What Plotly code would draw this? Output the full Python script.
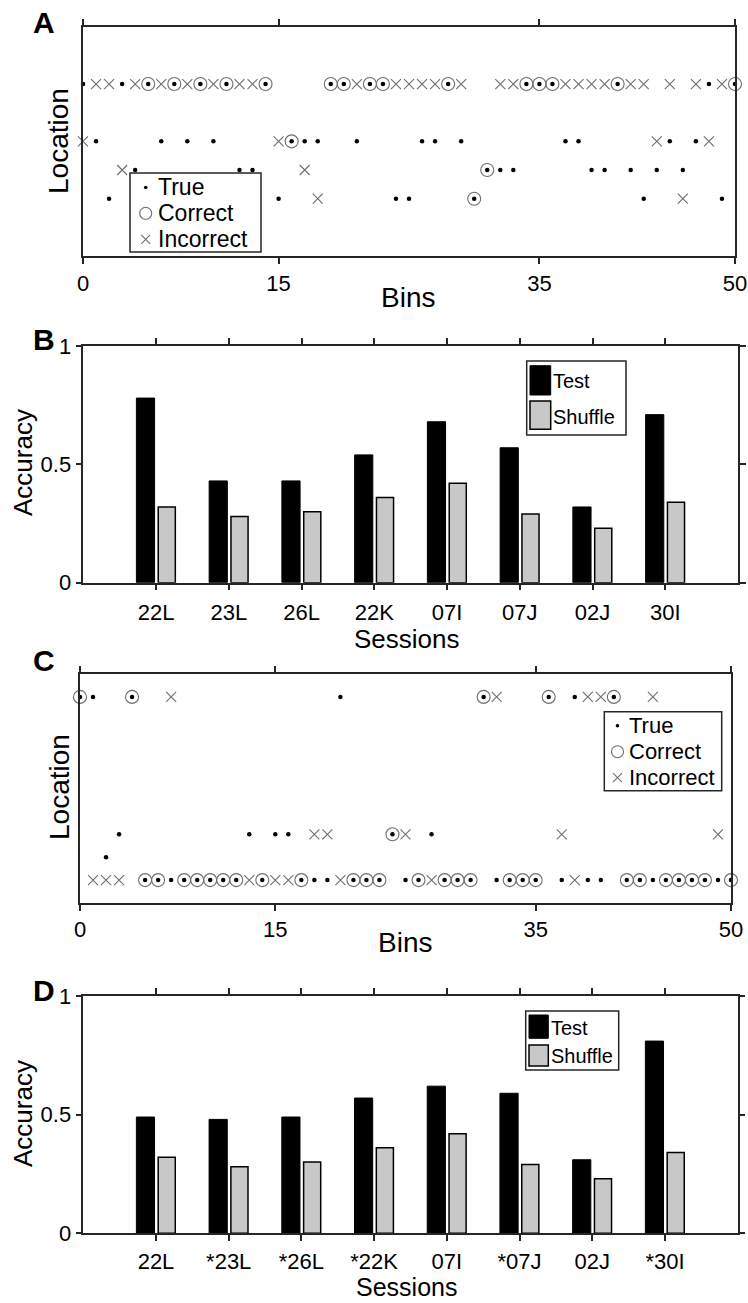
import plotly.graph_objects as go

W, H = 748, 1303
FONT = "Liberation Sans, Arial, Helvetica, sans-serif"
AX = "#262626"
MARK_GRAY = "#6e6e6e"

# ---- decoding results: true and predicted location for every time bin ----
bins = list(range(51))

a_true = [5, 3, 1, 5, 2, 5, 3, 5, 3, 5, 3, 5, 2, 2, 5, 1, 3, 3, 3, 5,
          5, 3, 5, 5, 1, 1, 3, 3, 5, 3, 1, 2, 2, 2, 5, 5, 5, 3, 3, 2,
          2, 5, 2, 1, 2, 3, 2, 3, 5, 1, 5]
a_pred = [3, 5, 5, 2, 5, 5, 5, 5, 5, 5, 5, 5, 5, 5, 5, 3, 3, 2, 1, 5,
          5, 5, 5, 5, 5, 5, 5, 5, 5, 5, 1, 2, 5, 5, 5, 5, 5, 5, 5, 5,
          5, 5, 5, 5, 3, 5, 1, 5, 3, 5, 5]

c_true = [9, 9, 2, 3, 9, 1, 1, 1, 1, 1, 1, 1, 1, 3, 1, 3, 3, 1, 1, 1,
          9, 1, 1, 1, 3, 1, 1, 3, 1, 1, 1, 9, 1, 1, 1, 1, 9, 1, 9, 1,
          1, 9, 1, 1, 1, 1, 1, 1, 1, 1, 1]
c_pred = [9, 1, 1, 1, 9, 1, 1, 9, 1, 1, 1, 1, 1, 1, 1, 1, 1, 1, 3, 3,
          1, 1, 1, 1, 3, 3, 1, 1, 1, 1, 1, 9, 9, 1, 1, 1, 9, 3, 1, 9,
          9, 9, 1, 1, 9, 1, 1, 1, 1, 3, 1]

bin_ticks = [0, 15, 35, 50]

# ---- decoding accuracy per session ----
sessions_b = ["22L", "23L", "26L", "22K", "07I", "07J", "02J", "30I"]
sessions_d = ["22L", "*23L", "*26L", "*22K", "07I", "*07J", "02J", "*30I"]
test_b = [0.78, 0.43, 0.43, 0.54, 0.68, 0.57, 0.32, 0.71]
test_d = [0.49, 0.48, 0.49, 0.57, 0.62, 0.59, 0.31, 0.81]
shuffle_acc = [0.32, 0.28, 0.30, 0.36, 0.42, 0.29, 0.23, 0.34]
acc_ticks = [0, 0.5, 1]
acc_ticktext = ["0", "0.5", "1"]


def px(x):
    return x / W


def py(y):
    return 1 - y / H


fig = go.Figure()


def add_decoding(true_loc, pred_loc, xa, ya):
    ok_x = [b for b, t, p in zip(bins, true_loc, pred_loc) if t == p]
    ok_y = [p for t, p in zip(true_loc, pred_loc) if t == p]
    bad_x = [b for b, t, p in zip(bins, true_loc, pred_loc) if t != p]
    bad_y = [p for t, p in zip(true_loc, pred_loc) if t != p]
    common = dict(xaxis=xa, yaxis=ya, mode="markers", cliponaxis=False,
                  showlegend=False)
    fig.add_trace(go.Scatter(x=ok_x, y=ok_y, name="Correct",
                             marker=dict(symbol="circle-open", size=13,
                                         color=MARK_GRAY,
                                         line=dict(width=1.1, color=MARK_GRAY)),
                             **common))
    fig.add_trace(go.Scatter(x=bad_x, y=bad_y, name="Incorrect",
                             marker=dict(symbol="x-thin-open", size=10,
                                         color=MARK_GRAY,
                                         line=dict(width=1.1, color=MARK_GRAY)),
                             **common))
    fig.add_trace(go.Scatter(x=bins, y=true_loc, name="True",
                             marker=dict(symbol="circle", size=4.5, color="black"),
                             **common))


def add_accuracy(test_vals, xa, ya):
    xs = list(range(1, len(test_vals) + 1))
    fig.add_trace(go.Bar(x=xs, y=test_vals, xaxis=xa, yaxis=ya, name="Test",
                         offset=-0.27, width=0.25, showlegend=False,
                         marker=dict(color="black",
                                     line=dict(color="black", width=1))))
    fig.add_trace(go.Bar(x=xs, y=shuffle_acc, xaxis=xa, yaxis=ya,
                         name="Shuffle", offset=0.03, width=0.235,
                         showlegend=False,
                         marker=dict(color="#c8c8c8",
                                     line=dict(color="black", width=1.5))))


add_decoding(a_true, a_pred, "x", "y")
add_accuracy(test_b, "x2", "y2")
add_decoding(c_true, c_pred, "x3", "y3")
add_accuracy(test_d, "x4", "y4")

axis_common = dict(showline=True, linecolor=AX, linewidth=1.5, mirror="allticks",
                   showgrid=False, zeroline=False, ticks="outside", ticklen=6,
                   tickwidth=1.5, tickcolor=AX,
                   tickfont=dict(family=FONT, size=22, color="black"))
loc_axis = {**axis_common, "ticks": "", "mirror": True, "showticklabels": False}

fig.update_layout(
    width=W, height=H, margin=dict(l=0, r=0, t=0, b=0),
    paper_bgcolor="white", plot_bgcolor="white", template="none",
    barmode="overlay", showlegend=False,
    # panel A
    xaxis=dict(domain=[px(83), px(735)], range=[0, 50], tickvals=bin_ticks,
               anchor="y", ticklabelstandoff=1, **axis_common),
    yaxis=dict(domain=[py(256), py(26.7)], range=[-1, 7], anchor="x",
               **loc_axis),
    # panel B
    xaxis2=dict(domain=[px(83.3), px(738)], range=[0, 9],
                tickvals=list(range(1, 9)), ticktext=sessions_b, anchor="y2",
                ticklabelstandoff=3, **axis_common),
    yaxis2=dict(domain=[py(582.7), py(346)], range=[0, 1], tickvals=acc_ticks,
                ticktext=acc_ticktext, anchor="x2", **axis_common),
    # panel C
    xaxis3=dict(domain=[px(80), px(731)], range=[0, 50], tickvals=bin_ticks,
                anchor="y3", ticklabelstandoff=0, **axis_common),
    yaxis3=dict(domain=[py(903), py(674)], range=[0, 10], anchor="x3",
                **loc_axis),
    # panel D
    xaxis4=dict(domain=[px(83.3), px(737.7)], range=[0, 9],
                tickvals=list(range(1, 9)), ticktext=sessions_d, anchor="y4",
                ticklabelstandoff=2, **axis_common),
    yaxis4=dict(domain=[py(1233.3), py(996)], range=[0, 1], tickvals=acc_ticks,
                ticktext=acc_ticktext, anchor="x4", **axis_common),
)

annotations = []
shapes = []


def label(text, x, y, size, bold=False, angle=0, yanchor="middle"):
    annotations.append(dict(
        text=f"<b>{text}</b>" if bold else text, x=px(x), y=py(y),
        xref="paper", yref="paper", showarrow=False, textangle=angle,
        xanchor="center", yanchor=yanchor,
        font=dict(family=FONT, size=size, color="black")))


def legend_text(text, x, y, size):
    annotations.append(dict(text=text, x=px(x), y=py(y), xref="paper",
                            yref="paper", showarrow=False, xanchor="left",
                            yanchor="middle",
                            font=dict(family=FONT, size=size, color="black")))


def box(x0, y0, x1, y1, fill, color, lw):
    shapes.append(dict(type="rect", xref="paper", yref="paper",
                       x0=px(x0), x1=px(x1), y0=py(y1), y1=py(y0),
                       fillcolor=fill, line=dict(color=color, width=lw)))


# ---- panel letters and axis titles ----
for letter, (lx, ly) in {"A": (44, 22), "B": (44, 340), "C": (44, 660),
                         "D": (44, 990)}.items():
    label(letter, lx, ly, 30, bold=True)

label("Location", 59, 141, 28, angle=-90)
label("Bins", 408, 298, 28)
label("Accuracy", 23, 463, 26, angle=-90)
label("Sessions", 407, 639, 26)
label("Location", 59, 787, 28, angle=-90)
label("Bins", 405, 942, 28)
label("Accuracy", 23, 1114, 26, angle=-90)
label("Sessions", 407, 1303, 25, yanchor="bottom")


# ---- legends of the decoding panels ----
def marker_legend(bx, sym_x, text_x, rows, size):
    box(*bx, "white", AX, 1.5)
    y_true, y_ok, y_bad = rows
    r = 1.8
    shapes.append(dict(type="circle", xref="paper", yref="paper",
                       x0=px(sym_x - r), x1=px(sym_x + r),
                       y0=py(y_true + r), y1=py(y_true - r),
                       fillcolor="black", line=dict(color="black", width=0)))
    r = 6
    shapes.append(dict(type="circle", xref="paper", yref="paper",
                       x0=px(sym_x - r), x1=px(sym_x + r),
                       y0=py(y_ok + r), y1=py(y_ok - r),
                       line=dict(color=MARK_GRAY, width=1.1)))
    h = 4.5
    for dy in (h, -h):
        shapes.append(dict(type="line", xref="paper", yref="paper",
                           x0=px(sym_x - h), x1=px(sym_x + h),
                           y0=py(y_bad - dy), y1=py(y_bad + dy),
                           line=dict(color=MARK_GRAY, width=1.1)))
    for txt, ty in zip(("True", "Correct", "Incorrect"), rows):
        legend_text(txt, text_x, ty, size)


marker_legend((130, 173, 261, 252), 145.7, 156, (187.5, 213.3, 239.3), 23)
marker_legend((604.3, 711.7, 721.7, 790.7), 617.5, 627, (725.7, 751.7, 777.7),
              22)


# ---- legends of the accuracy panels ----
def bar_legend(bx, test_patch, shuf_patch, text_x, ty_test, ty_shuf):
    box(*bx, "white", AX, 1.5)
    box(*test_patch, "black", "black", 1)
    box(*shuf_patch, "#c8c8c8", "black", 1.5)
    legend_text("Test", text_x, ty_test, 20)
    legend_text("Shuffle", text_x, ty_shuf, 20)


bar_legend((526.7, 361, 626, 435), (530, 365.7, 550.7, 395),
           (530, 401, 550.7, 429.3), 551, 381, 416.7)
bar_legend((525.7, 1011, 618.7, 1070), (529, 1015, 548.3, 1038.3),
           (529, 1045, 548.3, 1066), 549, 1028.3, 1056)

fig.update_layout(annotations=annotations, shapes=shapes)
fig.write_html("out.html")
